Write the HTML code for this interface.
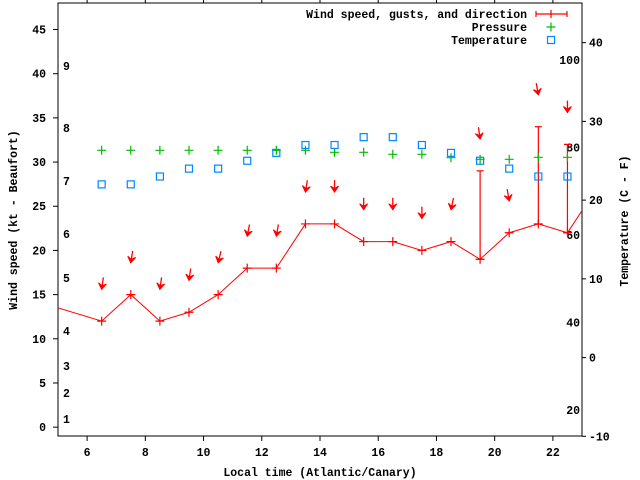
<!DOCTYPE html>
<html><head><meta charset="utf-8"><style>
body{margin:0;background:#fff}
svg{display:block}
text{font-family:"Liberation Mono",monospace;font-weight:bold;font-size:11.5px;fill:#000}
</style></head><body>
<svg id="chart" width="640" height="480" viewBox="0 0 640 480">
<defs><clipPath id="clip"><rect x="58" y="3" width="524" height="433"/></clipPath></defs>
<g id="axes"></g>
<g id="marks" clip-path="url(#clip)"></g>
<g id="legend"></g>
</svg>
<script>
const hours=[4.5,6.5,7.5,8.5,9.5,10.5,11.5,12.5,13.5,14.5,15.5,16.5,17.5,18.5,19.5,20.5,21.5,22.5,23.5];
const windSpeed=[14,12,15,12,13,15,18,18,23,23,21,21,20,21,19,22,23,22,27];
const windGust=[14,12,15,12,13,15,18,18,23,23,21,21,20,21,29,22,34,32,27];
const windDir=[8,8,9,8,8,14,11,10,9,0,0,0,0,12,352,350,350,0,0];
const obsHours=[6.5,7.5,8.5,9.5,10.5,11.5,12.5,13.5,14.5,15.5,16.5,17.5,18.5,19.5,20.5,21.5,22.5];
const pressure=[1020,1020,1020,1020,1020,1020,1020,1020,1019,1019,1018,1018,1016.3,1015.5,1015.5,1016.5,1016.5];
const temperature=[22,22,23,24,24,25,26,27,27,28,28,27,26,25,24,23,23];
const xTicks=[6,8,10,12,14,16,18,20,22];
const yTicks=[0,5,10,15,20,25,30,35,40,45];
const y2Ticks=[-10,0,10,20,30,40];
const fTicks=[20,40,60,80,100];
const beaufort=[[1,419],[2,393],[3,366],[4,331],[5,278],[6,234],[7,181],[8,128],[9,66]];

const L=58,R=582,T=3,B=436;
const X=h=>L+(h-5)/(23-5)*(R-L);
const Y=v=>B-(v+1)/49*(B-T);
const Y2=c=>B-(c+10)/55*(B-T)+0.3;
const YP=p=>150.3+(1020-p)*2;
const NS="http://www.w3.org/2000/svg";
function mk(tag,attrs,parent,txt){const e=document.createElementNS(NS,tag);for(const k in attrs)e.setAttribute(k,attrs[k]);if(txt!==undefined)e.textContent=txt;parent.appendChild(e);return e;}
const axes=document.getElementById('axes'),marks=document.getElementById('marks'),leg=document.getElementById('legend');

const frame=mk('rect',{x:L,y:T,width:R-L,height:B-T,fill:'none',stroke:'#000','stroke-width':1},axes);


xTicks.forEach(t=>{
 const x=X(t);
 mk('line',{x1:x,x2:x,y1:B,y2:B+5,stroke:'#000'},axes);
 mk('line',{x1:x,x2:x,y1:T,y2:0,stroke:'#000'},axes);
 const tx=mk('text',{x:x,y:456,'text-anchor':'middle'},axes,t);
 
 
});
yTicks.forEach(t=>{
 const y=Y(t);
 mk('line',{x1:L,x2:L-5,y1:y,y2:y,stroke:'#000'},axes);
 const tx=mk('text',{x:46,y:y+4,'text-anchor':'end'},axes,t);
 
 
});
y2Ticks.forEach(t=>{
 const y=Y2(t);
 mk('line',{x1:R,x2:R+4,y1:y,y2:y,stroke:'#000'},axes);
 const tx=mk('text',{x:589,y:y+4},axes,t);
 
 
});
fTicks.forEach(f=>{
 const y=Y2((f-32)*5/9);
 const tx=mk('text',{x:580,y:y+4,'text-anchor':'end'},axes,f);
 
 
});
beaufort.forEach(b=>{
 const tx=mk('text',{x:63,y:b[1]+4},axes,b[0]);
 
 
});
let t1=mk('text',{x:320,y:476,'text-anchor':'middle'},axes,'Local time (Atlantic/Canary)');


let t2=mk('text',{x:0,y:0,'text-anchor':'middle',transform:'translate(17,220) rotate(-90)'},axes,'Wind speed (kt - Beaufort)');


let t3=mk('text',{x:0,y:0,'text-anchor':'middle',transform:'translate(628,221) rotate(-90)'},axes,'Temperature (C - F)');



// wind line
const pl=mk('polyline',{points:hours.map((h,i)=>X(h)+','+Y(windSpeed[i])).join(' '),fill:'none',stroke:'#f00','stroke-width':1},marks);


function plus(x,y,c,g,name){const p=mk('path',{d:`M${x-4.5},${y}H${x+4.5}M${x},${y-4.5}V${y+4.5}`,stroke:c,'stroke-width':1.2,fill:'none'},g);return p;}
hours.forEach((h,i)=>{
 const x=X(h),y=Y(windSpeed[i]);
 plus(x,y,'#f00',marks,'wind-speed-point');
 if(windGust[i]>windSpeed[i]){
  const yg=Y(windGust[i]);
  const b=mk('path',{d:`M${x},${y}V${yg}M${x-3.5},${yg}H${x+3.5}M${x-3.5},${y}H${x+3.5}`,stroke:'#f00','stroke-width':1.2,fill:'none'},marks);
  
  
 }
 // direction arrow
 const top=Math.max(windSpeed[i],windGust[i])+3.6;
 const hx=x,hy=Y(top);
 const a=windDir[i]*Math.PI/180;
 const ux=Math.sin(a),uy=-Math.cos(a);
 const tx=hx+ux*12,ty=hy+uy*12;
 const g=mk('g',{},marks);
 
 
 mk('line',{x1:tx,y1:ty,x2:hx,y2:hy,stroke:'#f00','stroke-width':1.3},g);
 const px=-uy,py=ux;
 const bx=hx+ux*6,by=hy+uy*6;
 mk('polygon',{points:`${hx},${hy} ${bx+px*4},${by+py*4} ${hx+ux*3.5},${hy+uy*3.5} ${bx-px*4},${by-py*4}`,fill:'#f00',stroke:'#f00'},g);
});
obsHours.forEach((h,i)=>{
 plus(X(h),YP(pressure[i]),'#0b0',marks,'pressure-point');
 const s=mk('rect',{x:X(h)-3.5,y:Y2(temperature[i])-3.5,width:7,height:7,fill:'none',stroke:'#08f','stroke-width':1.2},marks);
 
 
});
// legend
const lt=[['Wind speed, gusts, and direction',14],['Pressure',27],['Temperature',40]];
lt.forEach(l=>{const t=mk('text',{x:527,y:l[1]+4,'text-anchor':'end'},leg,l[0]);});
const lw=mk('path',{d:'M536,14H567M536,11V17M567,11V17M551,10V18',stroke:'#f00','stroke-width':1.2,fill:'none'},leg);


plus(551,27,'#0b0',leg,'legend-pressure-symbol');
const ls=mk('rect',{x:547.5,y:36.5,width:7,height:7,fill:'none',stroke:'#08f','stroke-width':1.2},leg);


</script>
</body></html>
